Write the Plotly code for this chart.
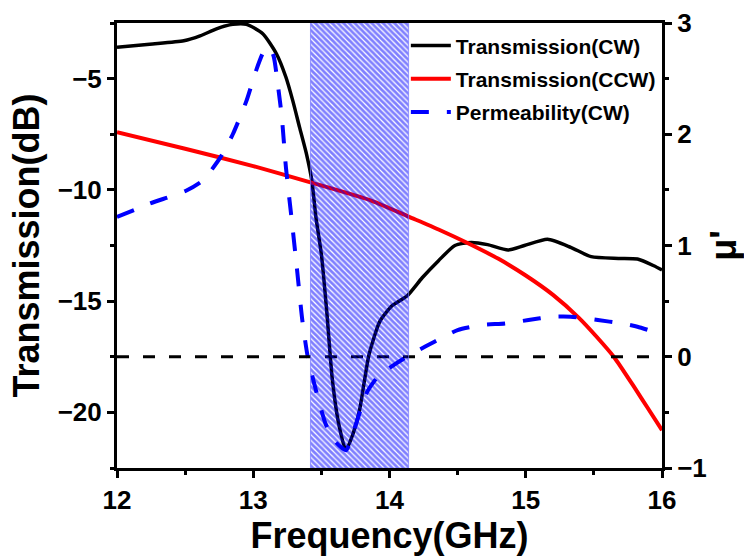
import plotly.graph_objects as go

# ---------------- data ----------------
freq_cw = [12.0, 12.24, 12.49, 12.61, 12.73, 12.85, 12.95, 13.07, 13.17, 13.24, 13.29, 13.34,
           13.39, 13.43, 13.46, 13.50, 13.54, 13.58, 13.63, 13.68, 13.73, 13.78, 13.85, 13.93,
           14.02, 14.13, 14.24, 14.36, 14.48, 14.60, 14.72, 14.87, 14.99, 15.16, 15.33, 15.48,
           15.68, 15.82, 15.94, 16.0]
trans_cw = [-3.59, -3.45, -3.30, -3.08, -2.76, -2.56, -2.56, -2.98, -3.88, -4.94, -5.99, -7.19,
            -8.37, -9.59, -11.23, -12.9, -15.5, -18.5, -20.6, -21.7, -21.0, -19.9, -17.4, -15.9,
            -15.2, -14.76, -13.95, -13.18, -12.5, -12.36, -12.46, -12.70, -12.5, -12.22, -12.58, -13.0,
            -13.08, -13.11, -13.41, -13.6]

freq_ccw = [12.0, 12.5, 13.0, 13.42, 13.87, 14.14, 14.36, 14.58, 14.8, 15.0, 15.2, 15.39,
            15.52, 15.65, 15.8, 15.9, 16.0]
trans_ccw = [-7.41, -8.15, -8.93, -9.66, -10.49, -11.2, -11.78, -12.41, -13.1, -13.85, -14.72, -15.75,
             -16.6, -17.53, -18.9, -19.85, -20.8]

freq_mu = [12.0, 12.24, 12.51, 12.63, 12.76, 12.85, 12.95, 13.02, 13.08, 13.12, 13.15, 13.18,
           13.21, 13.24, 13.28, 13.32, 13.36, 13.40, 13.46, 13.53, 13.60, 13.68, 13.75, 13.83,
           13.92, 14.0, 14.1, 14.2, 14.33, 14.50, 14.67, 14.85, 15.02, 15.19, 15.33, 15.53,
           15.70, 15.82, 15.94, 16.0]
mu_cw = [1.256, 1.376, 1.495, 1.585, 1.794, 2.0, 2.30, 2.57, 2.75, 2.78, 2.70, 2.45,
         2.15, 1.70, 1.256, 0.80, 0.33, 0.0, -0.30, -0.60, -0.76, -0.84, -0.62, -0.33,
         -0.17, -0.10, -0.02, 0.05, 0.135, 0.24, 0.284, 0.30, 0.33, 0.359, 0.36, 0.33,
         0.30, 0.27, 0.224, 0.20]

band_freq = [13.42, 14.14]      # shaded negative-permeability band
mu_zero = 0.0
freq_span = [12.0, 16.0]
db_range = [-22.5, -2.5]
mu_range = [-1.0, 3.0]

FONT = "Liberation Sans, Arial, sans-serif"

fig = go.Figure()

fig.add_trace(go.Scatter(x=freq_cw, y=trans_cw, mode="lines", name="Transmission(CW)",
                         line=dict(color="black", width=3.5, shape="spline", smoothing=0.6),
                         legendgroup="a"))
fig.add_trace(go.Scatter(x=freq_ccw, y=trans_ccw, mode="lines", name="Transmission(CCW)",
                         line=dict(color="#ff0000", width=4, shape="spline", smoothing=0.6),
                         legendgroup="b"))
fig.add_trace(go.Scatter(x=freq_mu, y=mu_cw, mode="lines", name="Permeability(CW)",
                         line=dict(color="#0000ff", width=4, dash="18px,18px", shape="spline", smoothing=0.6),
                         yaxis="y2", legendgroup="c"))
fig.add_trace(go.Scatter(x=freq_span, y=[mu_zero, mu_zero], mode="lines", showlegend=False,
                         line=dict(color="black", width=3, dash="12px,14px"), yaxis="y2",
                         hoverinfo="skip"))
# hatched band
fig.add_trace(go.Scatter(x=[band_freq[0], band_freq[1], band_freq[1], band_freq[0], band_freq[0]],
                         y=[mu_range[0], mu_range[0], mu_range[1], mu_range[1], mu_range[0]],
                         mode="lines", fill="toself", showlegend=False, yaxis="y2",
                         line=dict(color="rgba(120,120,255,0.7)", width=1),
                         fillcolor="rgba(0,0,0,0)",
                         fillpattern=dict(shape="\\", fgcolor="#0000ff", bgcolor="rgba(255,255,255,0)",
                                          size=4, solidity=0.7),
                         hoverinfo="skip"))

axis_common = dict(showgrid=False, zeroline=False, showline=True, linecolor="black", linewidth=3,
                   ticks="outside", tickcolor="black", tickwidth=3, ticklen=7, automargin=False,
                   tickfont=dict(family=FONT, size=26, color="black", weight="bold"))

fig.update_layout(
    width=744, height=559,
    margin=dict(l=117, r=82, t=23, b=91),
    paper_bgcolor="white", plot_bgcolor="white",
    font=dict(family=FONT, color="black"),
    xaxis=dict(range=freq_span, dtick=1, tick0=12, mirror=True,
               minor=dict(dtick=0.5, ticks="outside", ticklen=4, tickwidth=3, tickcolor="black"),
               title=dict(text="Frequency(GHz)", font=dict(family=FONT, size=36, weight="bold"), standoff=4),
               **axis_common),
    yaxis=dict(range=db_range, dtick=5, tick0=-5,
               minor=dict(dtick=2.5, ticks="outside", ticklen=4, tickwidth=3, tickcolor="black"),
               title=dict(text="Transmission(dB)", font=dict(family=FONT, size=36, weight="bold"), standoff=8),
               **axis_common),
    yaxis2=dict(range=mu_range, dtick=1, tick0=0, overlaying="y", side="right",
                minor=dict(dtick=0.5, ticks="outside", ticklen=4, tickwidth=3, tickcolor="black"),
                title=dict(text="μ'", font=dict(family=FONT, size=36, weight="bold"), standoff=10),
                **axis_common),
    legend=dict(x=0.53, y=0.995, xanchor="left", yanchor="top", bgcolor="rgba(0,0,0,0)",
                font=dict(family=FONT, size=21, weight="bold", color="black"),
                traceorder="grouped", tracegroupgap=3, itemwidth=40),
    showlegend=True,
)

fig.write_html("out.html")
